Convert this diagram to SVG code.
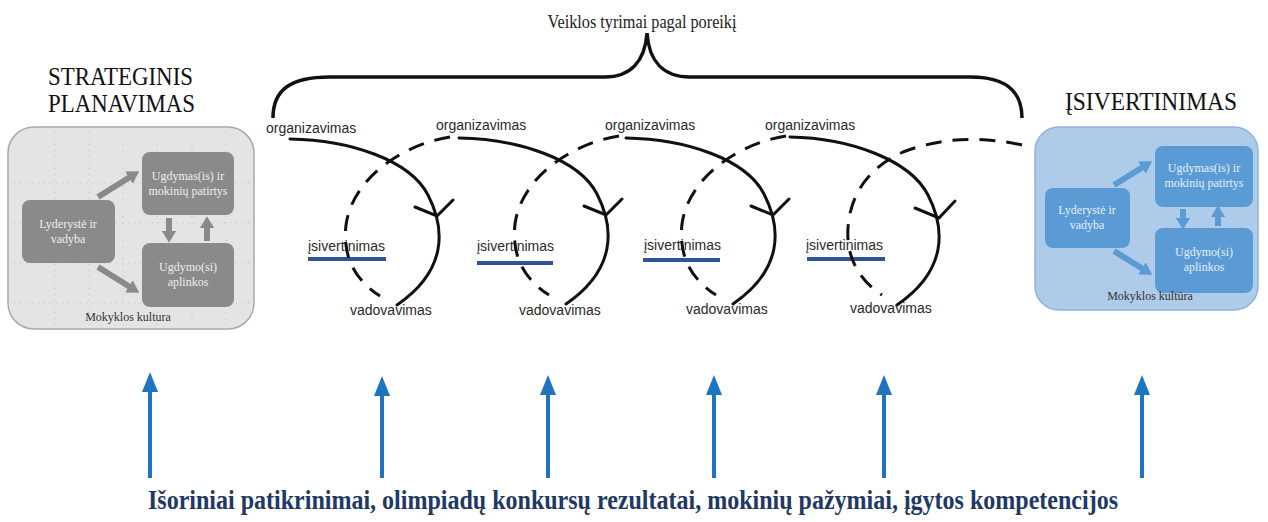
<svg xmlns="http://www.w3.org/2000/svg" width="1268" height="522" viewBox="0 0 1268 522">
<defs>
<style>
.title{font-family:"Liberation Serif","Times New Roman",serif;font-size:26px;fill:#111}
.cap{font-family:"Liberation Serif","Times New Roman",serif;font-size:18px;fill:#222}
.lbl{font-family:"Liberation Sans",Arial,sans-serif;font-size:14px;fill:#2a2a2a}
.small{font-family:"Liberation Serif","Times New Roman",serif;font-size:12px;text-anchor:middle}
.solid{fill:none;stroke:#111;stroke-width:3;stroke-linecap:round}
.dash{fill:none;stroke:#111;stroke-width:3;stroke-dasharray:16 11}
.uline{stroke:#2f5597;stroke-width:4}
.grid{stroke:#bdbdbd;stroke-width:1;stroke-dasharray:1 5}
.up{stroke:#1f74bf;stroke-width:4;marker-end:url(#bh)}
.ga{stroke:#8a8a8a;stroke-width:6;marker-end:url(#gh)}
.ba{stroke:#5b9bd5;stroke-width:6;marker-end:url(#bbh)}
</style>
<marker id="bh" markerWidth="5" markerHeight="4" refX="0" refY="2" orient="auto" markerUnits="strokeWidth"><path d="M0,0 L5,2 L0,4 Z" fill="#1f74bf"/></marker>
<marker id="gh" markerWidth="2" markerHeight="2.4" refX="0.2" refY="1.2" orient="auto" markerUnits="strokeWidth"><path d="M0,0 L2,1.2 L0,2.4 Z" fill="#8a8a8a"/></marker>
<marker id="bbh" markerWidth="2" markerHeight="2.4" refX="0.2" refY="1.2" orient="auto" markerUnits="strokeWidth"><path d="M0,0 L2,1.2 L0,2.4 Z" fill="#5b9bd5"/></marker>
</defs>
<rect width="1268" height="522" fill="#fff"/>

<g id="title-top">
<text class="cap" x="642" y="28" text-anchor="middle" textLength="189" lengthAdjust="spacingAndGlyphs">Veiklos tyrimai pagal poreikį</text>
</g>
<g id="brace">
<path d="M273,118 C273,90 290,77 330,77 L605,77 C630,77 645,62 647,33 C649,62 664,77 690,77 L970,77 C1005,77 1022,90 1022,118" fill="none" stroke="#111" stroke-width="3.5"/>
</g>

<g id="strateginis">
<text class="title" x="48" y="85" textLength="145" lengthAdjust="spacingAndGlyphs">STRATEGINIS</text>
<text class="title" x="48" y="112" textLength="147" lengthAdjust="spacingAndGlyphs">PLANAVIMAS</text>
<rect x="8" y="127" width="246" height="202" rx="26" fill="#e4e4e4" stroke="#a9a9a9" stroke-width="1.5"/>
<g>
<line class="grid" x1="55" y1="132" x2="55" y2="325"/>
<line class="grid" x1="89" y1="132" x2="89" y2="325"/>
<line class="grid" x1="123" y1="132" x2="123" y2="325"/>
<line class="grid" x1="157" y1="132" x2="157" y2="325"/>
<line class="grid" x1="192" y1="132" x2="192" y2="325"/>
<line class="grid" x1="226" y1="132" x2="226" y2="325"/>
<line class="grid" x1="14" y1="183" x2="250" y2="183"/>
<line class="grid" x1="14" y1="223" x2="250" y2="223"/>
<line class="grid" x1="14" y1="263" x2="250" y2="263"/>
<line class="grid" x1="14" y1="303" x2="250" y2="303"/>
</g>
<rect x="22" y="200" width="93" height="63" rx="8" fill="#8a8a8a"/>
<text class="small" x="68" y="228" fill="#eee">Lyderystė ir</text>
<text class="small" x="68" y="243" fill="#eee">vadyba</text>
<rect x="142" y="152" width="92" height="63" rx="8" fill="#8a8a8a"/>
<text class="small" x="188" y="180" fill="#eee">Ugdymas(is) ir</text>
<text class="small" x="188" y="195" fill="#eee">mokinių patirtys</text>
<rect x="142" y="243" width="92" height="64" rx="8" fill="#8a8a8a"/>
<text class="small" x="188" y="271" fill="#eee">Ugdymo(si)</text>
<text class="small" x="188" y="286" fill="#eee">aplinkos</text>
<line class="ga" x1="98" y1="197" x2="130" y2="177"/>
<line class="ga" x1="98" y1="267" x2="130" y2="287"/>
<line class="ga" x1="169" y1="218" x2="169" y2="232"/>
<line class="ga" x1="207" y1="241" x2="207" y2="227"/>
<text class="small" x="128" y="321" fill="#333">Mokyklos kultura</text>
</g>

<g id="isivertinimas-box">
<text class="title" x="1065" y="110" textLength="172" lengthAdjust="spacingAndGlyphs">ĮSIVERTINIMAS</text>
<rect x="1035" y="127" width="223" height="183" rx="24" fill="#aecbea" stroke="#8fb4dc" stroke-width="1.5"/>
<g>
<line class="grid" x1="1040" y1="137" x2="1252" y2="137" stroke="#9bb9d9"/>
<line class="grid" x1="1040" y1="245" x2="1252" y2="245" stroke="#9bb9d9"/>
<line class="grid" x1="1108" y1="132" x2="1108" y2="305" stroke="#9bb9d9"/>
</g>
<rect x="1045" y="188" width="85" height="60" rx="8" fill="#5b9bd5"/>
<text class="small" x="1087" y="214" fill="#e4eef8">Lyderystė ir</text>
<text class="small" x="1087" y="229" fill="#e4eef8">vadyba</text>
<rect x="1155" y="146" width="98" height="61" rx="8" fill="#5b9bd5"/>
<text class="small" x="1204" y="172" fill="#e4eef8">Ugdymas(is) ir</text>
<text class="small" x="1204" y="187" fill="#e4eef8">mokinių patirtys</text>
<rect x="1155" y="228" width="98" height="65" rx="8" fill="#5b9bd5"/>
<text class="small" x="1204" y="256" fill="#e4eef8">Ugdymo(si)</text>
<text class="small" x="1204" y="271" fill="#e4eef8">aplinkos</text>
<line class="ba" x1="1114" y1="185" x2="1143" y2="167"/>
<line class="ba" x1="1114" y1="251" x2="1143" y2="269"/>
<line class="ba" x1="1183" y1="209" x2="1183" y2="219"/>
<line class="ba" x1="1218" y1="226" x2="1218" y2="216"/>
<text class="small" x="1150" y="300" fill="#333">Mokyklos kultūra</text>
</g>

<g id="cycle-1">
<text class="lbl" x="266" y="133">organizavimas</text>
<line class="uline" x1="308" y1="259" x2="386" y2="259"/>
<text class="lbl" x="308" y="251">įsivertinimas</text>
<path class="solid" d="M290,139 C350,140 410,160 428,195 C445,228 448,270 397,305"/>
<polyline class="solid" points="415,207 437,216 453,200"/>
<path class="dash" d="M450,137 C400,145 352,180 346,225 C342,260 358,282 380,296"/>
<text class="lbl" x="350" y="315">vadovavimas</text>
</g>

<g id="cycle-2" transform="translate(169,-1)">
<text class="lbl" x="267" y="131">organizavimas</text>
<line class="uline" x1="308" y1="264" x2="384" y2="264"/>
<text class="lbl" x="308" y="252">įsivertinimas</text>
<path class="solid" d="M290,139 C350,140 410,160 428,195 C445,228 448,270 397,305"/>
<polyline class="solid" points="415,207 437,216 453,200"/>
<path class="dash" d="M450,137 C400,145 352,180 346,225 C342,260 358,282 380,296"/>
<text class="lbl" x="350" y="316">vadovavimas</text>
</g>

<g id="cycle-3" transform="translate(336,-1)">
<text class="lbl" x="269" y="131">organizavimas</text>
<line class="uline" x1="307" y1="261" x2="384" y2="261"/>
<text class="lbl" x="308" y="251">įsivertinimas</text>
<path class="solid" d="M290,139 C350,140 410,160 428,195 C445,228 448,270 397,305"/>
<polyline class="solid" points="415,207 437,216 453,200"/>
<path class="dash" d="M450,137 C400,145 352,180 346,225 C342,260 358,282 380,296"/>
<text class="lbl" x="350" y="315">vadovavimas</text>
</g>

<g id="cycle-4" transform="translate(500,0)">
<text class="lbl" x="265" y="130">organizavimas</text>
<line class="uline" x1="307" y1="259" x2="385" y2="259"/>
<text class="lbl" x="306" y="250">įsivertinimas</text>
<path class="solid" d="M290,137 C350,138 410,160 428,195 C445,228 448,270 397,305"/>
<polyline class="solid" points="415,208 439,218 455,201"/>
<path class="dash" d="M522,145 C485,137 445,136 403,152 C368,168 350,195 348,228 C346,258 360,281 382,295"/>
<text class="lbl" x="350" y="313">vadovavimas</text>
</g>

<g id="connectors">
<line class="up" x1="150" y1="478" x2="150" y2="392"/>
<line class="up" x1="382" y1="478" x2="382" y2="396"/>
<line class="up" x1="548" y1="478" x2="548" y2="395"/>
<line class="up" x1="714" y1="478" x2="714" y2="395"/>
<line class="up" x1="884" y1="478" x2="884" y2="395"/>
<line class="up" x1="1142" y1="478" x2="1142" y2="395"/>
</g>

<g id="bottom-text">
<text x="148" y="509" font-family="'Liberation Serif','Times New Roman',serif" font-size="27" font-weight="bold" fill="#1f3864" textLength="970" lengthAdjust="spacingAndGlyphs">Išoriniai patikrinimai, olimpiadų konkursų rezultatai, mokinių pažymiai, įgytos kompetencijos</text>
</g>
</svg>
